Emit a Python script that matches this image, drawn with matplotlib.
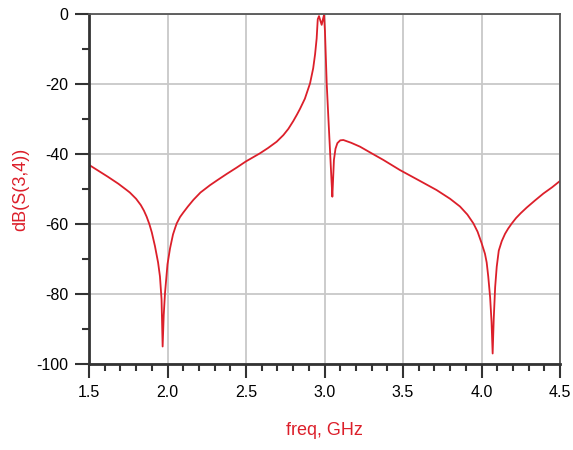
import numpy as np
import matplotlib.pyplot as plt
from matplotlib.ticker import MultipleLocator

plt.rcParams['font.family'] = ['Liberation Sans', 'DejaVu Sans']
plt.rcParams['axes.unicode_minus'] = False

# frequency (GHz) and dB(S(3,4))
freq = [1.50, 1.56, 1.62, 1.687, 1.74, 1.76, 1.80, 1.83, 1.85, 1.867, 1.885, 1.90,
        1.920, 1.940, 1.952, 1.962, 1.969, 1.976, 1.984, 2.000, 2.016, 2.035, 2.048,
        2.059, 2.08, 2.101, 2.13, 2.165, 2.21, 2.271, 2.32, 2.377, 2.44, 2.50, 2.589,
        2.64, 2.695, 2.738, 2.77, 2.801, 2.825, 2.844, 2.875, 2.908, 2.928,
        2.94, 2.950, 2.957, 2.965, 2.973, 2.982, 2.990, 2.997, 3.003, 3.014, 3.025,
        3.035, 3.044, 3.050, 3.055, 3.060, 3.070, 3.082, 3.10, 3.12, 3.17, 3.226, 3.30,
        3.375, 3.481, 3.60, 3.714, 3.80, 3.863, 3.91, 3.948, 3.975, 4.001, 4.022, 4.033,
        4.043, 4.055, 4.064, 4.071, 4.078, 4.087, 4.097, 4.11, 4.129, 4.15, 4.17,
        4.192, 4.22, 4.25, 4.288, 4.34, 4.394, 4.45, 4.50]
db = [-43.1, -44.8, -46.5, -48.5, -50.3, -51.0, -52.8, -54.6, -56.2, -57.9, -60.1, -62.4,
      -66.3, -71.0, -75.0, -81.5, -95.0, -86.0, -79.8, -71.5, -67.0, -63.0, -61.2,
      -59.8, -58.0, -56.7, -55.0, -53.1, -51.0, -48.9, -47.4, -45.7, -43.9, -42.1, -39.8,
      -38.3, -36.5, -34.6, -32.8, -30.6, -28.7, -27.1, -24.2, -19.8, -15.5,
      -11.5, -7.0, -1.5, -0.6, -1.8, -3.1, -1.5, -0.3, -5.0, -19.8, -30.0,
      -38.9, -47.0, -52.2, -47.0, -41.7, -38.5, -36.9, -36.1, -36.0, -36.8, -37.9, -39.8,
      -41.7, -44.6, -47.5, -50.3, -52.8, -55.0, -57.3, -59.8, -62.2, -65.5, -68.5, -71.0,
      -75.0, -81.0, -88.0, -97.0, -87.0, -78.0, -72.2, -67.6, -64.9, -62.8, -61.3,
      -59.9, -58.3, -56.9, -55.3, -53.3, -51.3, -49.5, -47.7]

red = '#dc1f2a'
dark = '#333333'

fig = plt.figure(figsize=(5.73, 4.5), dpi=100)
ax = fig.add_axes([89/573, 1 - 364/450, (560 - 89)/573, (364 - 14)/450])

ax.plot(freq, db, color=red, lw=1.3)

ax.set_xlim(1.5, 4.5)
ax.set_ylim(-100, 0)
ax.xaxis.set_major_locator(MultipleLocator(0.5))
ax.xaxis.set_minor_locator(MultipleLocator(0.1))
ax.yaxis.set_major_locator(MultipleLocator(20))
ax.yaxis.set_minor_locator(MultipleLocator(10))
ax.set_xticklabels([f'{v:.1f}' for v in ax.get_xticks()])

ax.grid(True, which='major', color='#c8c8c8', lw=1.3)
ax.set_axisbelow(True)

for s in ['left', 'bottom']:
    ax.spines[s].set_color(dark)
    ax.spines[s].set_linewidth(2)
for s in ['top', 'right']:
    ax.spines[s].set_color('#555555')
    ax.spines[s].set_linewidth(1.3)

ax.tick_params(which='major', length=10, width=1.5, color=dark, labelsize=11.5, pad=5)
ax.tick_params(which='minor', length=5, width=1.5, color=dark)
ax.tick_params(top=False, right=False, which='both')

ax.set_xlabel('freq, GHz', color=red, fontsize=13, labelpad=16)
ax.set_ylabel('dB(S(3,4))', color=red, fontsize=13, labelpad=5)

fig.savefig('out.png', dpi=100)
